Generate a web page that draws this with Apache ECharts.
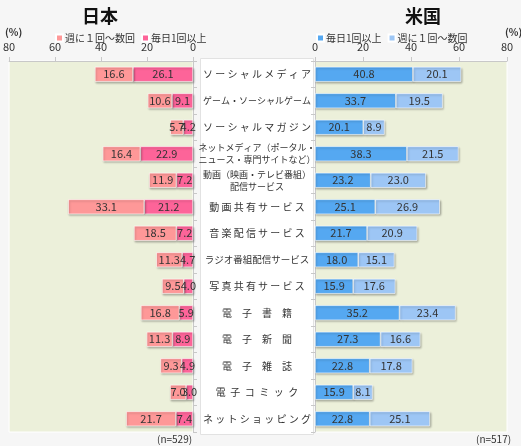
<!DOCTYPE html>
<html>
<head>
<meta charset="utf-8">
<script src="https://cdn.jsdelivr.net/npm/echarts@6/dist/echarts.min.js"></script>
<style>
html,body{margin:0;padding:0;background:#f6f6f6;}
#c{width:521px;height:446px;}
</style>
</head>
<body>
<div id="c"></div>
<script>
const categories = [
  'ソーシャルメディア',
  'ゲーム・ソーシャルゲーム',
  'ソーシャルマガジン',
  'ネットメディア（ポータル・\nニュース・専門サイトなど）',
  '動画（映画・テレビ番組）\n配信サービス',
  '動画共有サービス',
  '音楽配信サービス',
  'ラジオ番組配信サービス',
  '写真共有サービス',
  '電子書籍',
  '電子新聞',
  '電子雑誌',
  '電子コミック',
  'ネットショッピング'
];
const japanDaily  = [26.1, 9.1, 4.2, 22.9, 7.2, 21.2, 7.2, 4.7, 4.0, 5.9, 8.9, 4.9, 3.0, 7.4];
const japanWeekly = [16.6, 10.6, 5.7, 16.4, 11.9, 33.1, 18.5, 11.3, 9.5, 16.8, 11.3, 9.3, 7.0, 21.7];
const usDaily     = [40.8, 33.7, 20.1, 38.3, 23.2, 25.1, 21.7, 18.0, 15.9, 35.2, 27.3, 22.8, 15.9, 22.8];
const usWeekly    = [20.1, 19.5, 8.9, 21.5, 23.0, 26.9, 20.9, 15.1, 17.6, 23.4, 16.6, 17.8, 8.1, 25.1];
const axisTicks = [0, 20, 40, 60, 80];
const dailyName = '毎日1回以上';
const weeklyName = '週に１回～数回';

const FONT = '"Noto Sans CJK JP", "Noto Sans", sans-serif';
const C = {jpD:'#fd6499', jpW:'#fe9898', usD:'#55a8f1', usW:'#9dc6f5'};

function labelFmt(s){
  if (s.indexOf('\n') >= 0) return s.split('\n').map(l => '{s|' + l + '}').join('\n');
  const n = s.length;
  if (n >= 12) return '{s|' + s + '}';
  if (n >= 11) return '{m|' + s + '}';
  let gap = '';
  if (n <= 4) gap = '\u3000';
  else if (n <= 6) gap = '  ';
  else gap = ' ';
  return '{a|' + s.split('').join(gap) + '}';
}

const barCommon = {
  type: 'bar', barWidth: 15,
  label: {show: true, position: 'inside', color: '#333', fontSize: 11, fontFamily: FONT,
          formatter: p => p.value.toFixed(1)},
  itemStyle: {borderColor: '#fff', borderWidth: 0.6,
              shadowColor: 'rgba(0,0,0,0.28)', shadowBlur: 2, shadowOffsetX: 1, shadowOffsetY: 1.5}
};
function bar(name, data, color, idx, stack){
  return Object.assign({}, barCommon, {
    name, data, stack, xAxisIndex: idx, yAxisIndex: idx,
    itemStyle: Object.assign({}, barCommon.itemStyle, {color})
  });
}

const chart = echarts.init(document.getElementById('c'));
chart.setOption({
  backgroundColor: '#f6f6f6',
  animation: false,
  textStyle: {fontFamily: FONT},
  title: [
    {text: '日本', left: 95, top: 2, textAlign: 'center',
     textStyle: {fontSize: 18, fontWeight: 'bold', color: '#111', fontFamily: FONT}},
    {text: '米国', left: 418, top: 2, textAlign: 'center',
     textStyle: {fontSize: 18, fontWeight: 'bold', color: '#111', fontFamily: FONT}},
    {text: '(%)', left: 0, top: 22, textStyle: {fontSize: 10, fontWeight: 'bold', color: '#333', fontFamily: FONT}},
    {text: '(%)', left: 500, top: 22, textStyle: {fontSize: 10, fontWeight: 'bold', color: '#333', fontFamily: FONT}},
    {text: '(n=529)', left: 152, top: 429, textStyle: {fontSize: 10, fontWeight: 'normal', color: '#333', fontFamily: FONT}},
    {text: '(n=517)', left: 471, top: 429, textStyle: {fontSize: 10, fontWeight: 'normal', color: '#333', fontFamily: FONT}}
  ],
  graphic: [
    {type: 'rect', left: 200, top: 58, shape: {width: 113, height: 376},
     style: {fill: '#ffffff', stroke: '#e2e2e2', lineWidth: 1}, z: -1}
  ],
  legend: [
    {left: 50, top: 28, itemWidth: 7, itemHeight: 7, itemGap: 6, icon: 'rect',
     textStyle: {fontSize: 10, color: '#333', fontFamily: FONT, padding: [0,0,0,-3]},
     data: [{name: weeklyName, itemStyle: {color: C.jpW}}, {name: dailyName, itemStyle: {color: C.jpD}}]},
    {left: 311, top: 28, itemWidth: 7, itemHeight: 7, itemGap: 6, icon: 'rect',
     textStyle: {fontSize: 10, color: '#333', fontFamily: FONT, padding: [0,0,0,-3]},
     data: [{name: dailyName, itemStyle: {color: C.usD}}, {name: weeklyName, itemStyle: {color: C.usW}}]}
  ],
  grid: [
    {left: 7, top: 61, width: 186, height: 371, show: true, backgroundColor: '#ecf0da', borderColor: '#ffffff', borderWidth: 1},
    {left: 315, top: 61, width: 192, height: 371, show: true, backgroundColor: '#ecf0da', borderColor: '#ffffff', borderWidth: 1}
  ],
  xAxis: [
    {gridIndex: 0, type: 'value', position: 'top', inverse: true, min: axisTicks[0], max: axisTicks[4], interval: 20,
     axisLine: {show: true, lineStyle: {color: '#c8c8c8'}},
     axisTick: {show: true, length: 4, lineStyle: {color: '#c8c8c8'}},
     splitLine: {show: false},
     axisLabel: {fontSize: 11, color: '#333', margin: 9, fontFamily: FONT}},
    {gridIndex: 1, type: 'value', position: 'top', min: axisTicks[0], max: axisTicks[4], interval: 20,
     axisLine: {show: true, lineStyle: {color: '#c8c8c8'}},
     axisTick: {show: true, length: 4, lineStyle: {color: '#c8c8c8'}},
     splitLine: {show: false},
     axisLabel: {fontSize: 11, color: '#333', margin: 9, fontFamily: FONT}}
  ],
  yAxis: [
    {gridIndex: 0, type: 'category', data: categories, inverse: true, position: 'right',
     axisLine: {show: true, lineStyle: {color: '#c8c8c8'}},
     axisTick: {show: true, length: 4, lineStyle: {color: '#c8c8c8'}},
     axisLabel: {show: false}},
    {gridIndex: 1, type: 'category', data: categories, inverse: true, position: 'left',
     axisLine: {show: true, lineStyle: {color: '#c8c8c8'}},
     axisTick: {show: true, length: 4, lineStyle: {color: '#c8c8c8'}},
     axisLabel: {show: true, align: 'center', margin: 58, color: '#333', fontFamily: FONT,
                 formatter: labelFmt,
                 rich: {
                   a: {fontSize: 10, color: '#333', fontFamily: FONT},
                   m: {fontSize: 9.5, color: '#333', fontFamily: FONT},
                   s: {fontSize: 9, lineHeight: 12, color: '#333', fontFamily: FONT}
                 }}}
  ],
  series: [
    bar(dailyName, japanDaily, C.jpD, 0, 'jp'),
    bar(weeklyName, japanWeekly, C.jpW, 0, 'jp'),
    bar(dailyName, usDaily, C.usD, 1, 'us'),
    bar(weeklyName, usWeekly, C.usW, 1, 'us')
  ]
});
</script>
</body>
</html>
